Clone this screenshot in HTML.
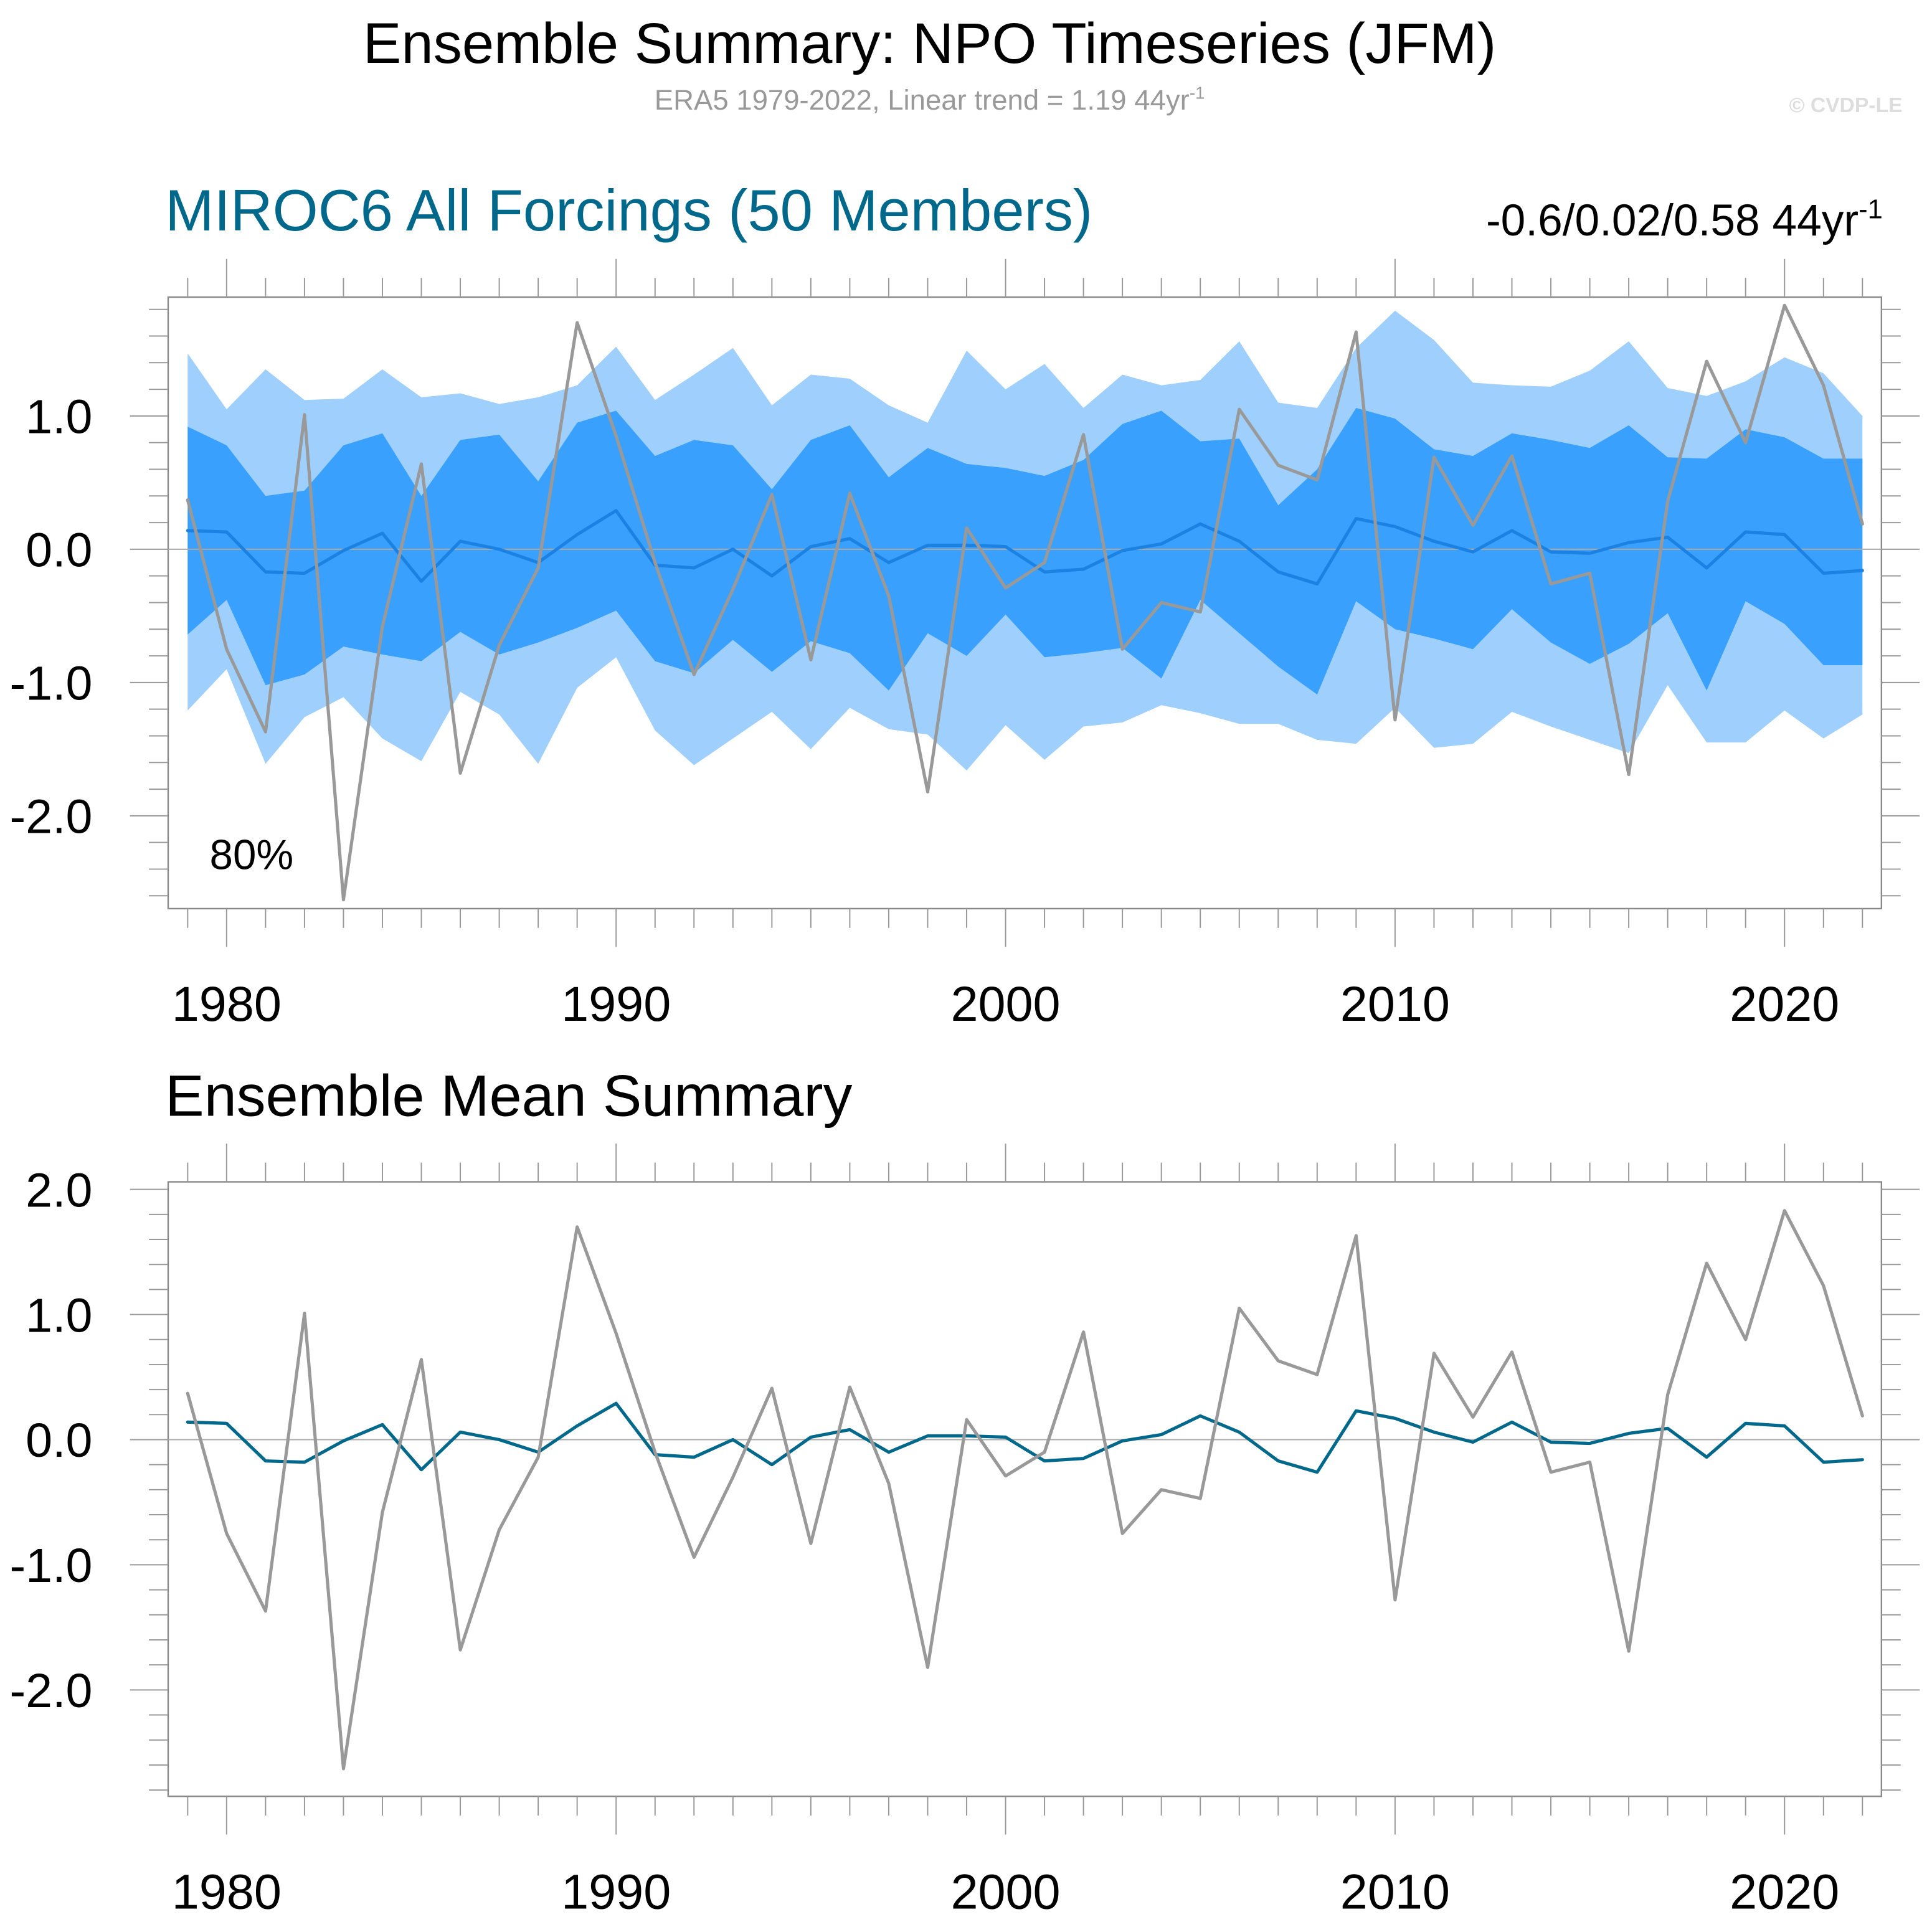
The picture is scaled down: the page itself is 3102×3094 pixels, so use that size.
<!DOCTYPE html>
<html><head><meta charset="utf-8"><style>
html,body{margin:0;padding:0;background:#fff}
svg{display:block;font-family:"Liberation Sans",sans-serif}
</style></head><body>
<svg id="chart" width="3102" height="3094" viewBox="0 0 1567 1563" preserveAspectRatio="none" xmlns="http://www.w3.org/2000/svg">
<text x="754" y="51" font-size="46.6" text-anchor="middle" fill="#000">Ensemble Summary: NPO Timeseries (JFM)</text>
<text x="754" y="89" font-size="23" text-anchor="middle" fill="#999">ERA5 1979-2022, Linear trend = 1.19 44yr<tspan font-size="14" dy="-9">-1</tspan></text>
<text x="1543" y="91" font-size="17" font-weight="bold" text-anchor="end" fill="#ddd">© CVDP-LE</text>
<text x="134" y="187" font-size="47.5" fill="#00688b">MIROC6 All Forcings (50 Members)</text>
<text x="1527" y="191" font-size="36" text-anchor="end" fill="#000">-0.6/0.02/0.58 44yr<tspan font-size="22" dy="-14">-1</tspan></text>
<text x="134" y="905" font-size="47.3" fill="#000">Ensemble Mean Summary</text>
<g id="topPanel"></g>
<g id="botPanel"></g>
</svg>
<script>
const years=[];for(let y=1979;y<=2022;y++)years.push(y);
const era5=[0.37,-0.75,-1.37,1.01,-2.63,-0.58,0.64,-1.68,-0.72,-0.14,1.70,0.85,-0.10,-0.94,-0.30,0.41,-0.83,0.42,-0.35,-1.82,0.16,-0.29,-0.10,0.86,-0.75,-0.40,-0.47,1.05,0.63,0.52,1.63,-1.28,0.69,0.18,0.70,-0.26,-0.18,-1.69,0.36,1.41,0.80,1.83,1.23,0.19];
const ensMean=[0.14,0.13,-0.17,-0.18,-0.01,0.12,-0.24,0.06,0.00,-0.10,0.11,0.29,-0.12,-0.14,0.00,-0.20,0.02,0.08,-0.10,0.03,0.03,0.02,-0.17,-0.15,-0.01,0.04,0.19,0.06,-0.17,-0.26,0.23,0.17,0.06,-0.02,0.14,-0.02,-0.03,0.05,0.09,-0.14,0.13,0.11,-0.18,-0.16];
const p90=[1.47,1.05,1.35,1.12,1.13,1.35,1.14,1.17,1.09,1.14,1.23,1.52,1.12,1.31,1.51,1.08,1.31,1.28,1.08,0.95,1.49,1.20,1.39,1.06,1.31,1.23,1.27,1.56,1.10,1.06,1.51,1.79,1.57,1.25,1.23,1.22,1.34,1.56,1.21,1.15,1.26,1.44,1.32,1.00];
const p10=[-1.21,-0.90,-1.61,-1.26,-1.11,-1.42,-1.59,-1.07,-1.24,-1.61,-1.04,-0.81,-1.36,-1.62,-1.42,-1.22,-1.50,-1.19,-1.35,-1.39,-1.66,-1.32,-1.58,-1.33,-1.30,-1.17,-1.23,-1.31,-1.31,-1.43,-1.46,-1.19,-1.49,-1.46,-1.22,-1.33,-1.43,-1.53,-1.02,-1.45,-1.45,-1.21,-1.42,-1.24];
const p75=[0.92,0.78,0.40,0.44,0.78,0.87,0.40,0.82,0.86,0.51,0.95,1.04,0.70,0.82,0.78,0.45,0.82,0.93,0.54,0.76,0.64,0.61,0.55,0.67,0.94,1.04,0.81,0.83,0.33,0.60,1.06,0.98,0.75,0.70,0.87,0.82,0.76,0.93,0.69,0.68,0.90,0.84,0.68,0.68];
const p25=[-0.64,-0.38,-1.02,-0.94,-0.73,-0.79,-0.84,-0.62,-0.79,-0.70,-0.59,-0.46,-0.84,-0.93,-0.68,-0.92,-0.69,-0.78,-1.06,-0.63,-0.80,-0.49,-0.81,-0.78,-0.74,-0.97,-0.38,-0.63,-0.88,-1.09,-0.39,-0.60,-0.67,-0.75,-0.45,-0.70,-0.86,-0.71,-0.48,-1.06,-0.39,-0.56,-0.87,-0.87];
const decadeLabels=["1980","1990","2000","2010","2020"];
const topYTicks=["1.0","0.0","-1.0","-2.0"];
const botYTicks=["2.0","1.0","0.0","-1.0","-2.0"];

const NS="http://www.w3.org/2000/svg";
function el(tag,attrs,parent){const e=document.createElementNS(NS,tag);for(const k in attrs)e.setAttribute(k,attrs[k]);parent.appendChild(e);return e;}
const xs=y=>183.8+(y-1980)*31.59;
function panel(g,box,ys,yTickLabels,yMinorRange,bands,lineColor,yearBase){
  const [L,T,R,B]=box;
  if(bands){
    const mk=(hi,lo,c,name)=>{let d='';years.forEach((y,i)=>d+=(i?'L':'M')+xs(y)+','+ys(hi[i]));for(let i=years.length-1;i>=0;i--)d+='L'+xs(years[i])+','+ys(lo[i]);
      const p=el('path',{d:d+'Z',fill:c},g);
      
      };
    mk(bands[0],bands[1],'#9fd0fd','band-10-90');
    mk(bands[2],bands[3],'#3aa0fe','band-25-75');
  }
  el('rect',{x:L,y:T,width:R-L,height:B-T,fill:'none',stroke:'#888','stroke-width':1.2},g);
  el('line',{x1:L,x2:R,y1:ys(0),y2:ys(0),stroke:'#aaa','stroke-width':1},g);
  years.forEach(y=>{const x=xs(y),maj=y%10==0;const len=maj?31:15.6;
    el('line',{x1:x,x2:x,y1:T,y2:T-len,stroke:'#999','stroke-width':1},g);
    el('line',{x1:x,x2:x,y1:B,y2:B+len,stroke:'#999','stroke-width':1},g);});
  decadeLabels.forEach(s=>{const t=el('text',{x:xs(+s),y:yearBase,'font-size':40,'text-anchor':'middle'},g);t.textContent=s;
    
    });
  for(let v=yMinorRange[0];v<=yMinorRange[1]+1e-6;v+=0.2){const vv=Math.round(v*10)/10;const maj=Math.abs(vv-Math.round(vv))<1e-6;const len=maj?31:15.6;const y=ys(vv);
    el('line',{x1:L,x2:L-len,y1:y,y2:y,stroke:'#999','stroke-width':1},g);
    el('line',{x1:R,x2:R+len,y1:y,y2:y,stroke:'#999','stroke-width':1},g);}
  yTickLabels.forEach(s=>{const t=el('text',{x:75,y:ys(+s)+14,'font-size':39,'text-anchor':'end'},g);t.textContent=s;
    
    });
  const line=(arr,c,w,name)=>{const p=el('polyline',{points:years.map((y,i)=>xs(y)+','+ys(arr[i])).join(' '),fill:'none',stroke:c,'stroke-width':w,'stroke-linejoin':'round','stroke-linecap':'round'},g);
    
    };
  line(ensMean,lineColor,2.6,'ensemble-mean-line');
  line(era5,'#999',2.6,'era5-line');
}
const topG=document.getElementById('topPanel');


panel(topG,[136.4,241,1526,737],v=>445.5-v*108.1,topYTicks,[-2.6,1.8],[p90,p10,p75,p25],'#1b82e4',828);
const lab=el('text',{x:170,y:705,'font-size':34},topG);lab.textContent='80%';


const botG=document.getElementById('botPanel');


panel(botG,[136.4,958.6,1526,1457],v=>1167.7-v*101.5,botYTicks,[-2.8,2.0],null,'#00688b',1548);
</script>
</body></html>
